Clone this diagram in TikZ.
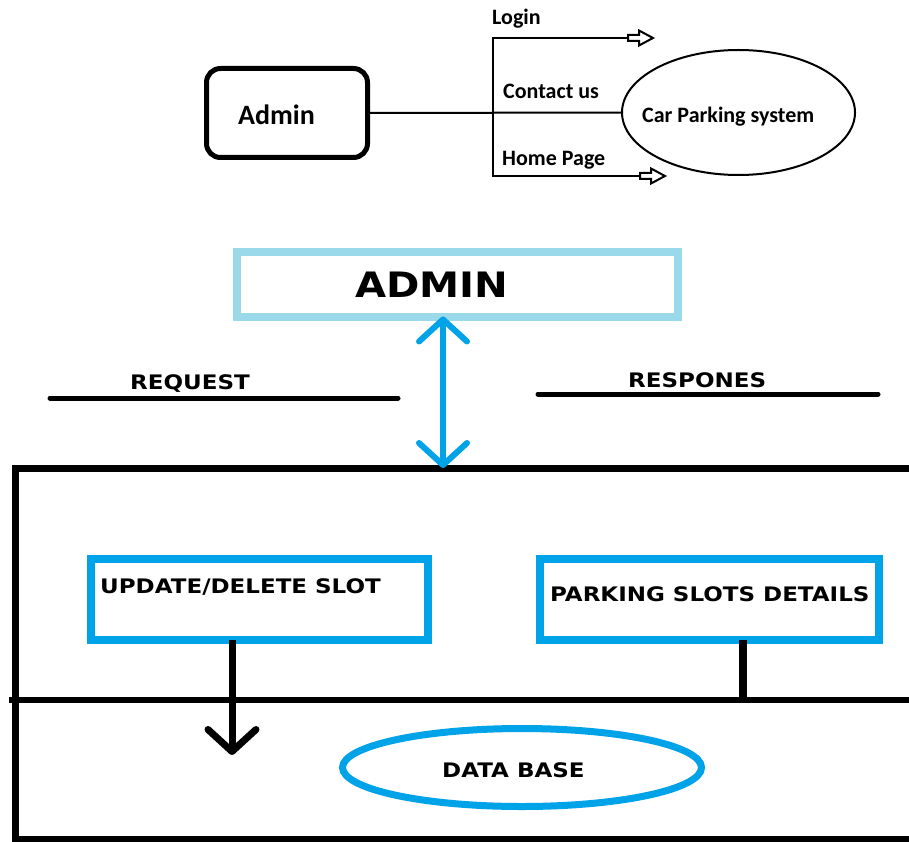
\documentclass[tikz,border=0pt]{standalone}
\usepackage{fontspec}
\setmainfont{Carlito}
\newfontfamily\capsfont[FakeStretch=1.15]{DejaVu Sans}
\usetikzlibrary{arrows.meta,shapes.geometric}
\definecolor{paleblue}{RGB}{153,217,234}
\definecolor{paintblue}{RGB}{0,162,232}
\tikzset{
  vhead/.tip={Straight Barb[length=22pt,width=48pt,round]},
  hollowhead/.pic={\draw[line width=2pt,fill=white,line join=miter] (0,-3) -- (11,-3) -- (11,-7.5) -- (25,0) -- (11,7.5) -- (11,3) -- (0,3) -- cycle;}
}

\begin{document}
\begin{tikzpicture}[x=1pt,y=-1pt,
  lbl/.style={font=\bfseries\fontsize{22}{26}\selectfont,inner sep=0pt,anchor=base west},
  caps/.style={font=\capsfont\bfseries\fontsize{20}{24}\selectfont,inner sep=0pt,anchor=base west},
  bluebox/.style={draw=paintblue,line width=8pt,minimum height=81.5pt,inner sep=0pt,outer sep=0pt}]
  \clip (0,0) rectangle (909,842);
  \fill[white] (0,0) rectangle (909,842);

  \node[draw,line width=5pt,rounded corners=14pt,minimum width=161pt,minimum height=89pt,inner sep=0pt,outer sep=0pt] (adminTop) at (287,113) {};
  \node[lbl,font=\bfseries\fontsize{28}{32}\selectfont] (adminTopTxt) at (238,125) {Admin};
  \node[draw,ellipse,line width=2pt,minimum width=233pt,minimum height=125pt,inner sep=0pt,outer sep=0pt] (cps) at (738.5,112.5) {};
  \node[lbl] (cpsTxt) at (642,123) {Car Parking system};
  \draw[line width=2pt] (adminTop.east) -- (cps.west);

  \coordinate (splitUp) at (493,38);
  \coordinate (splitDown) at (493,176);
  \coordinate (loginEnd) at (628,38);
  \coordinate (homeEnd) at (640,176);
  \draw[line width=2pt] (loginEnd) -- (splitUp) -- (splitDown) -- (homeEnd);
  \pic at (loginEnd) {hollowhead};
  \pic at (homeEnd) {hollowhead};
  \foreach \txt/\px/\py/\nm in {Login/492/25/login,Contact us/503/99/contact,Home Page/502/166/home}{
    \node[lbl] (\nm) at (\px,\py) {\txt};
  }

  \node[draw=paleblue,line width=8pt,minimum width=441pt,minimum height=65pt,inner sep=0pt,outer sep=0pt] (adminBox) at (457,284) {};
  \node[caps,font=\capsfont\bfseries\fontsize{35}{40}\selectfont] (adminTxt) at (355,297) {ADMIN};

  \coordinate (reqL) at (50,398);
  \coordinate (reqR) at (398,398);
  \coordinate (resL) at (538,394);
  \coordinate (resR) at (878,394);
  \draw[line width=5pt,line cap=round] (reqL) -- (reqR);
  \draw[line width=5pt,line cap=round] (resL) -- (resR);
  \node[caps] (reqTxt) at (130,389) {REQUEST};
  \node[caps] (resTxt) at (628,387) {RESPONES};

  \draw[line width=7pt] (920,468) -- (15,468) -- (15,839) -- (920,839);
  \draw[line width=6pt] (9,700) -- (920,700);

  \coordinate (frameTop) at (443,468);
  \draw[paintblue,line width=6pt,vhead-vhead] (adminBox.south -| frameTop) -- (frameTop);

  \node[bluebox,minimum width=337.5pt] (updBox) at (259.25,599.25) {};
  \node[bluebox,minimum width=339pt] (parkBox) at (709,599.25) {};
  \node[caps] (updTxt) at (100,593) {UPDATE/DELETE SLOT};
  \node[caps] (parkTxt) at (550,601) {PARKING SLOTS DETAILS};

  \node[draw=paintblue,ellipse,line width=7pt,minimum width=359pt,minimum height=78pt,inner sep=0pt] (dbase) at (522,767.5) {};
  \node[caps] (dbTxt) at (442,777) {DATA BASE};

  \coordinate (updTip) at (232,755);
  \coordinate (dbLink) at (743,700);
  \draw[line width=7pt,-vhead] (updBox.south -| updTip) -- (updTip);
  \draw[line width=8pt] (parkBox.south -| dbLink) -- (dbLink);
\end{tikzpicture}
\end{document}
